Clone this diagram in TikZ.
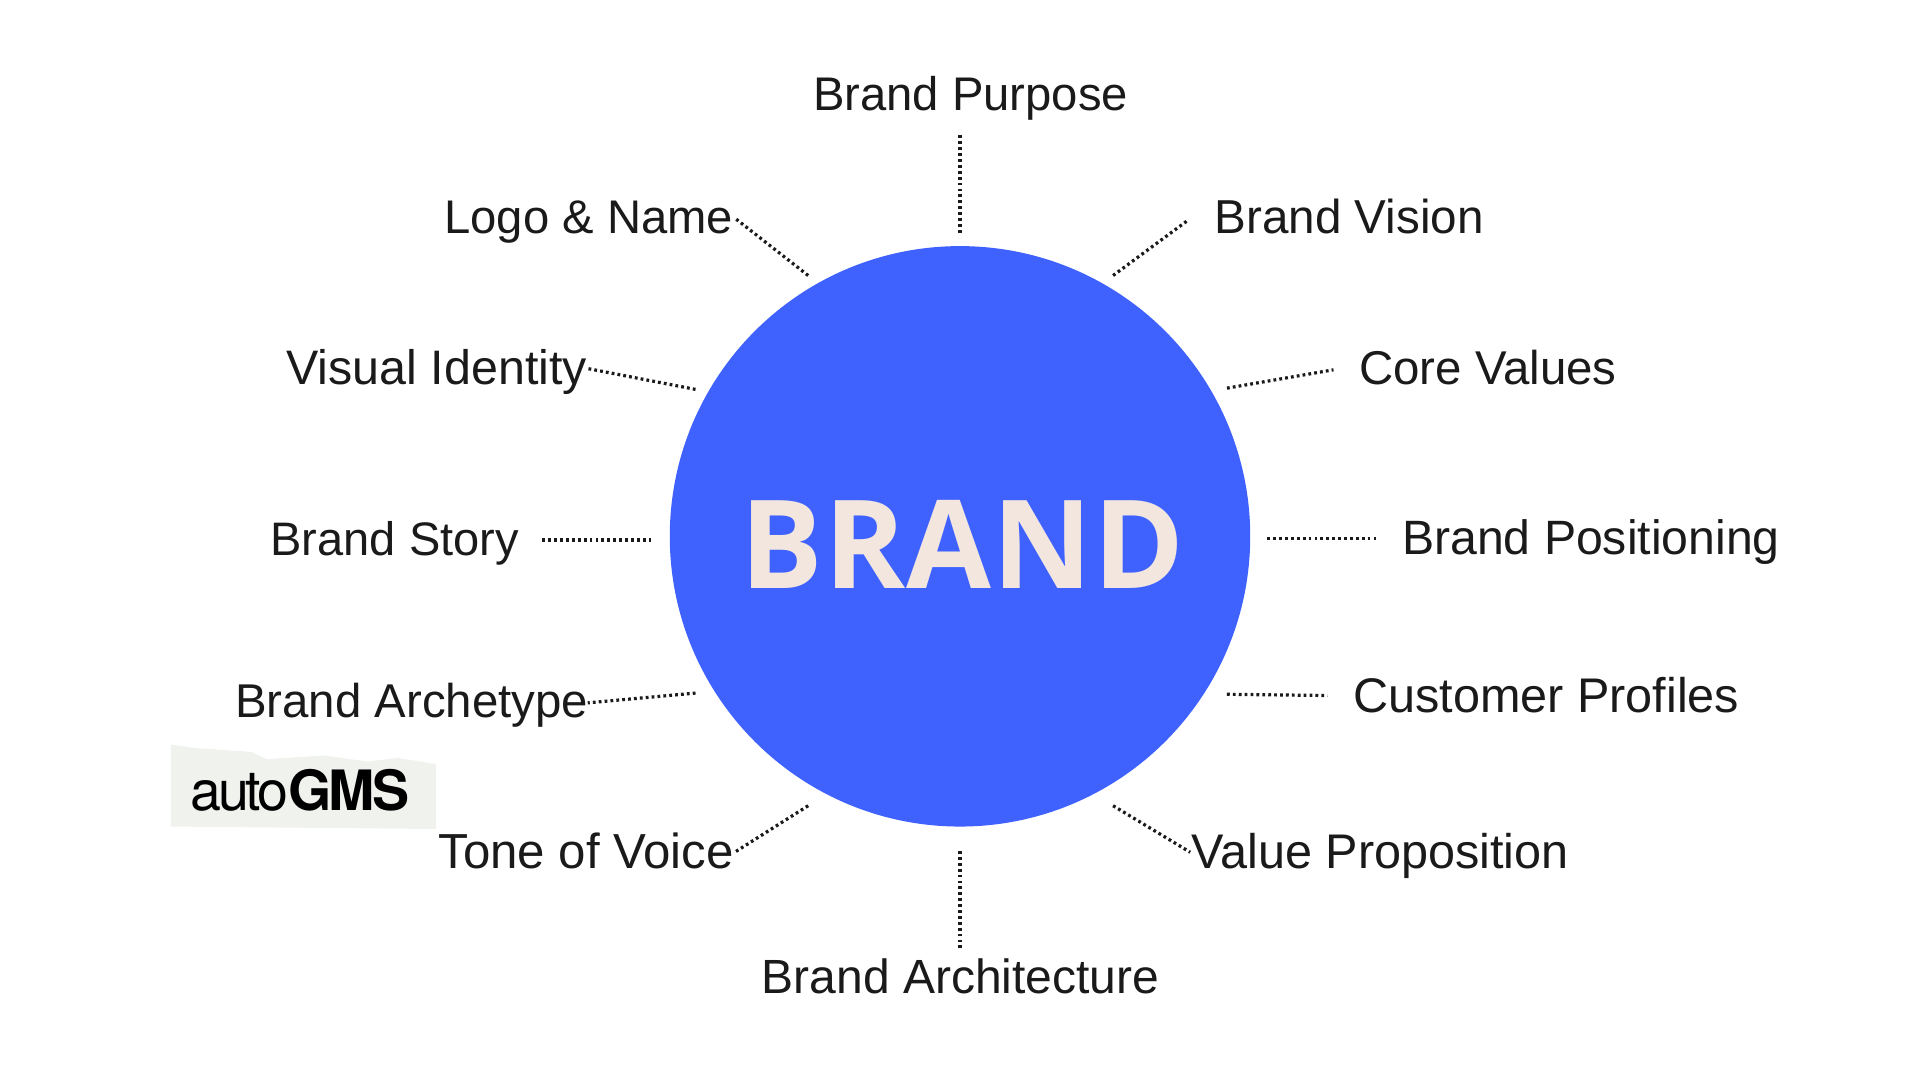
\documentclass[tikz,border=0pt]{standalone}
\usepackage{fontspec}
\setmainfont{Liberation Sans}
\newfontfamily\hubfont[LetterSpace=0.8]{Open Sans}
\newfontfamily\logofont[LetterSpace=-5.5]{TeX Gyre Heros}
\newfontfamily\logobold[LetterSpace=-5.5,BoldFont=*]{TeX Gyre Heros Bold}
\usetikzlibrary{calc}
\definecolor{hubblue}{HTML}{3F62FF}
\definecolor{hubtext}{HTML}{F2E6DF}
\definecolor{paper}{HTML}{F0F2EE}
\definecolor{ink}{HTML}{1A1A1A}
\tikzset{
  x=0.6122pt,y=-0.6122pt,
  lab/.style={anchor=base west,inner sep=0pt,outer sep=0pt,text=ink,font=\fontsize{#1}{28}\selectfont},
  lab/.default=23.8,
  dotline/.style={draw=ink,line width=1.6pt,dash pattern=on 1.4pt off 1.55pt},
  hubnode/.style={circle,fill=hubblue,inner sep=0pt,minimum size=290.2pt},
  hubword/.style={anchor=base,inner sep=0pt,text=hubtext,font=\hubfont\bfseries\fontsize{61.5}{70}\selectfont}
}
\begin{document}
\begin{tikzpicture}
\useasboundingbox (0,0) rectangle (1568,882);
\fill[white] (0,0) rectangle (1568,882);
% torn paper
\fill[paper] (139.6,608) -- (160,611) -- (205,614) -- (218,620) -- (265,617) -- (300,622) -- (325,619) -- (356,624) -- (356,677) -- (139.6,675) -- cycle;
\node[anchor=base west,inner sep=0pt,font=\fontsize{27.8}{30}\selectfont] (logo) at (155,662) {{\logofont auto}{\logobold GMS}};
\node[hubnode] (hub) at (784,438) {};
\node[hubword] (word) at (786,481) {BRAND};
\node[lab=23.6] (purpose) at (664,90) {Brand Purpose};
\node[lab] (vision) at (992,191) {Brand Vision};
\node[lab=23.7] (core) at (1110,314) {Core Values};
\node[lab=24.1] (positioning) at (1145,453) {Brand Positioning};
\node[lab=24.3] (customer) at (1105,582) {Customer Profiles};
\node[lab=24.3] (value) at (973,709) {Value Proposition};
\node[lab=24] (architecture) at (622,811) {Brand Architecture};
\node[lab=24.6] (tone) at (358,709) {Tone of Voice};
\node[lab=23.7] (archetype) at (192,586) {Brand Archetype};
\node[lab=23.5] (story) at (221,454) {Brand Story};
\node[lab=24.2] (visual) at (234,314) {Visual Identity};
\node[lab=23.6] (logoname) at (363,191) {Logo \& Name};
\coordinate (e1) at (784,110);
\coordinate (e2) at (970,180);
\coordinate (e3) at (1089,302);
\coordinate (e4) at (1124,440);
\coordinate (e5) at (1084,568);
\coordinate (e6) at (972,696);
\coordinate (e7) at (784,775);
\coordinate (e8) at (600,696);
\coordinate (e9) at (480,574);
\coordinate (e10) at (443,441);
\coordinate (e11) at (480,301);
\coordinate (e12) at (600,178);
\draw[dotline] ($(hub.center)+(0,-248)$) -- (e1);
\draw[dotline] ($(hub.center)+(125,-213)$) -- (e2);
\draw[dotline] ($(hub.center)+(218,-121)$) -- (e3);
\draw[dotline] ($(hub.center)+(251,2)$) -- (e4);
\draw[dotline] ($(hub.center)+(218,129)$) -- (e5);
\draw[dotline] ($(hub.center)+(125,220)$) -- (e6);
\draw[dotline] ($(hub.center)+(0,257)$) -- (e7);
\draw[dotline] ($(hub.center)+(-124,220)$) -- (e8);
\draw[dotline] ($(hub.center)+(-216,128)$) -- (e9);
\draw[dotline] ($(hub.center)+(-252,3)$) -- (e10);
\draw[dotline] ($(hub.center)+(-216,-120)$) -- (e11);
\draw[dotline] ($(hub.center)+(-124,-213)$) -- (e12);
\end{tikzpicture}
\end{document}
